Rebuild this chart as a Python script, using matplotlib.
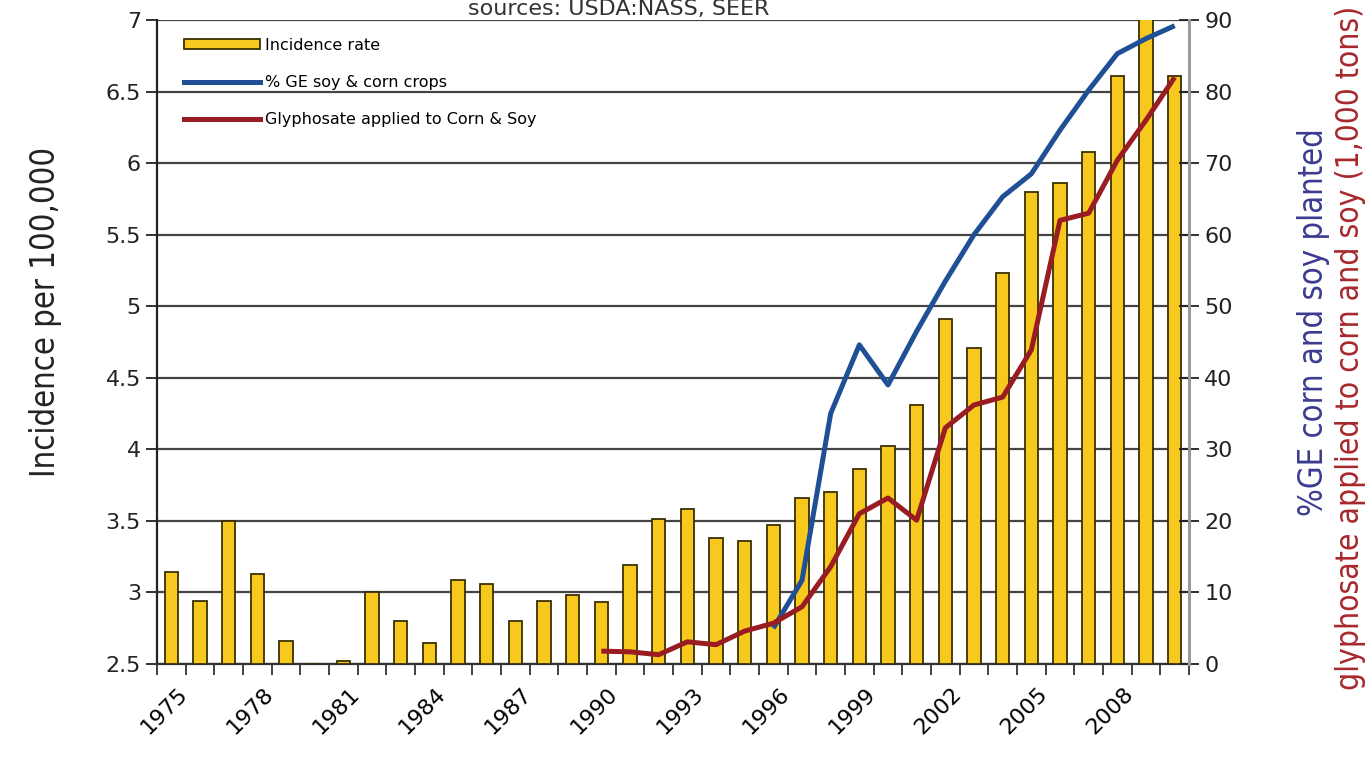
import matplotlib
matplotlib.use("Agg")
import matplotlib.pyplot as plt
from matplotlib.patches import Patch
from matplotlib.lines import Line2D
import numpy as np

# ---- 数据 ----
years = list(range(1975, 2011))
incidence = [3.14, 2.94, 3.50, 3.13, 2.66, 2.49, 2.52, 3.00, 2.80, 2.65,
             3.09, 3.06, 2.80, 2.94, 2.98, 2.93, 3.19, 3.51, 3.58, 3.38,
             3.36, 3.47, 3.66, 3.70, 3.86, 4.02, 4.31, 4.91, 4.71, 5.23,
             5.80, 5.86, 6.08, 6.61, 7.05, 6.61]
ge_years = list(range(1996, 2011))
ge_pct = [5.0, 11.7, 35.0, 44.6, 39.0, 46.5, 53.5, 60.0, 65.3, 68.5,
          74.6, 80.2, 85.3, 87.4, 89.2]
gly_years = list(range(1990, 2011))
gly_tons = [1.8, 1.7, 1.3, 3.1, 2.7, 4.6, 5.7, 8.0, 13.6, 21.0, 23.2,
            20.1, 33.0, 36.2, 37.3, 43.9, 62.0, 63.0, 70.4, 76.0, 82.0]
left_ticks = [2.5, 3, 3.5, 4, 4.5, 5, 5.5, 6, 6.5, 7]
left_labels = ["2.5", "3", "3.5", "4", "4.5", "5", "5.5", "6", "6.5", "7"]

BAR = "#f7c81e"
BLUE = "#1f5096"
RED = "#981c22"

fig = plt.figure(figsize=(13.66, 7.66), dpi=100)
ax = fig.add_axes([157 / 1366, 102 / 766, 1032 / 1366, 644 / 766])

x = np.arange(len(years))
ax.bar(x, np.array(incidence) - 2.5, bottom=2.5, width=0.46, color=BAR,
       edgecolor="#3a3000", linewidth=1.3, zorder=3)
ax.set_xlim(-0.5, len(years) - 0.5)
ax.set_ylim(2.5, 7)
ax.set_yticks(left_ticks)
ax.set_yticklabels(left_labels)
ax.yaxis.grid(True, color="#444444", linewidth=1.6, zorder=0)
ax.set_axisbelow(True)

# x 轴: 刻度在柱间, 标签每三年
ax.set_xticks(np.arange(-0.5, len(years)), minor=True)
lab_idx = [i for i, y in enumerate(years) if (y - 1975) % 3 == 0]
ax.set_xticks([i + 0.2 for i in lab_idx])
ax.set_xticklabels([str(years[i]) for i in lab_idx], rotation=45,
                   ha="right", rotation_mode="anchor", fontsize=16)
ax.tick_params(axis="x", which="major", length=0, pad=14)
ax.tick_params(axis="x", which="minor", length=8, width=1.3, color="#333333")
ax.tick_params(axis="y", labelsize=16, length=8, width=1.3, colors="#222222")
for s in ["top", "right"]:
    ax.spines[s].set_visible(False)
ax.spines["left"].set_linewidth(1.6)
ax.spines["bottom"].set_linewidth(1.6)
ax.spines["left"].set_color("#222222")
ax.spines["bottom"].set_color("#333333")

# 右轴: 折线
ax2 = ax.twinx()
ax2.set_ylim(0, 90)
ax2.set_yticks(range(0, 91, 10))
ax2.tick_params(axis="y", labelsize=16, direction="inout", length=14,
                width=1.3, colors="#222222", pad=4)
ax2.spines["right"].set_color("#9a9a9a")
ax2.spines["right"].set_linewidth(2.2)
for s in ["top", "left", "bottom"]:
    ax2.spines[s].set_visible(False)
ge_x = [years.index(y) for y in ge_years]
gly_x = [years.index(y) for y in gly_years]
ax2.plot(ge_x, ge_pct, color=BLUE, linewidth=3.6, solid_capstyle="butt", zorder=4)
ax2.plot(gly_x, gly_tons, color=RED, linewidth=3.6, solid_capstyle="butt", zorder=5)

handles = [Patch(facecolor=BAR, edgecolor="#3a3000", linewidth=1.3),
           Line2D([], [], color=BLUE, linewidth=3.6),
           Line2D([], [], color=RED, linewidth=3.6)]
ax2.legend(handles, ["Incidence rate", "% GE soy & corn crops",
                     "Glyphosate applied to Corn & Soy"],
           loc="upper left", bbox_to_anchor=(0.012, 0.995), frameon=False,
           fontsize=11.5, handlelength=4.8, handleheight=0.6,
           labelspacing=1.4, handletextpad=0.3)

lab = dict(rotation=90, ha="center", va="center",
           fontstretch="condensed", family="DejaVu Sans")
fig.text(46 / 1366, 1 - 312 / 766, "Incidence per 100,000", color="#222222",
         fontsize=23.5, **lab)
fig.text(1313 / 1366, 1 - 322 / 766, "%GE corn and soy planted", color="#3a3a8f",
         fontsize=23.5, **lab)
fig.text(1351 / 1366, 1 - 348 / 766,
         "glyphosate applied to corn and soy (1,000 tons)", color="#a8282c",
         fontsize=22.8, **lab)
fig.text(619 / 1366, 1 - 15 / 766, "sources: USDA:NASS, SEER",
         ha="center", va="baseline", fontsize=16, color="#333333")

fig.savefig("out.png", dpi=100)
